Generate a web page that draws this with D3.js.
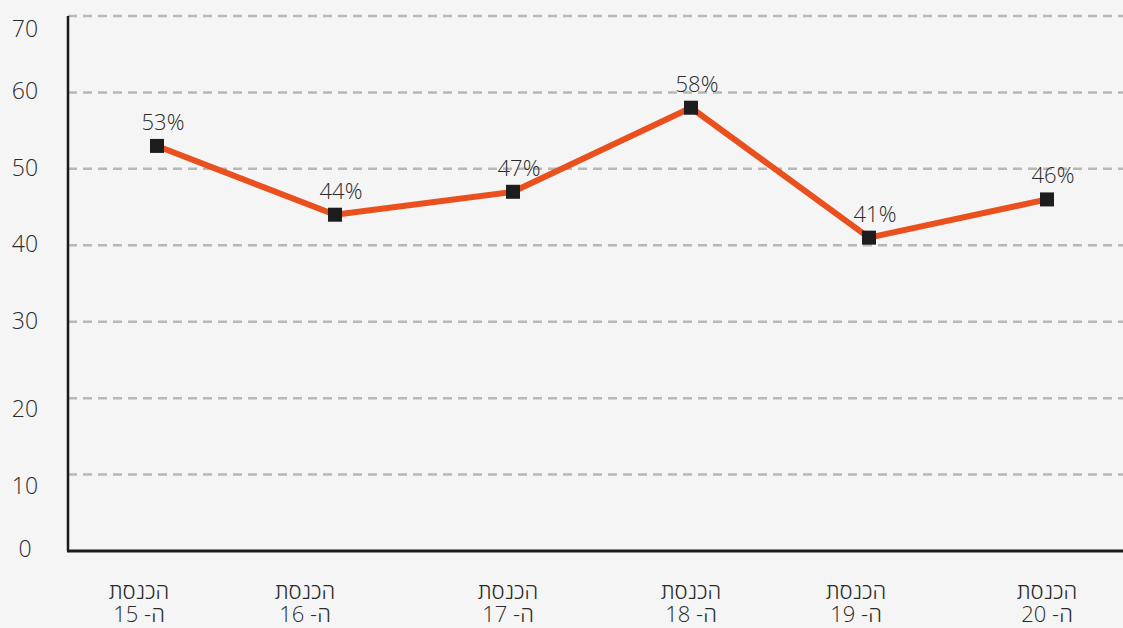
<!DOCTYPE html>
<html>
<head>
<meta charset="utf-8">
<script src="https://cdn.jsdelivr.net/npm/d3@7"></script>
<style>
    body { margin: 0; background: #f5f5f5; }
    svg { display: block; font-family: "Open Sans", "DejaVu Sans", sans-serif; font-weight: 300; }
</style>
</head>
<body>
<div id="chart"></div>
<script>
// data
const knessets = ["15", "16", "17", "18", "19", "20"];
const values = [53, 44, 47, 58, 41, 46];
const yTicks = [0, 10, 20, 30, 40, 50, 60, 70];

// small layout nudges so labels sit where the original put them
const xLabelNudge = [-18, -30, -5, 0, -13, 0];
const yLabelNudge = [-2, 11, 11, -1, -1, -1, -1, 13];

const width = 1123;
const height = 628;
const margin = { top: 16, right: 0, bottom: 77, left: 68 };

const svg = d3.select("#chart")
    .append("svg")
    .attr("width", width)
    .attr("height", height);

svg.append("rect")
    .attr("width", width)
    .attr("height", height)
    .attr("fill", "#f5f5f5");

const x = d3.scalePoint()
    .domain(knessets)
    .range([margin.left, margin.left + 1068])
    .padding(0.5);

const y = d3.scaleLinear()
    .domain([0, 70])
    .range([height - margin.bottom, margin.top]);

// dashed gridlines
svg.append("g")
    .selectAll("line")
    .data(yTicks.filter(d => d > 0))
    .enter()
    .append("line")
    .attr("x1", margin.left)
    .attr("x2", width)
    .attr("y1", d => y(d))
    .attr("y2", d => y(d))
    .attr("stroke", "#b8b8b8")
    .attr("stroke-width", 2.5)
    .attr("stroke-dasharray", "9,6");

// y tick labels
svg.append("g")
    .selectAll("text")
    .data(yTicks)
    .enter()
    .append("text")
    .attr("x", 25)
    .attr("y", (d, i) => y(d) + yLabelNudge[i])
    .attr("dy", "0.35em")
    .attr("text-anchor", "middle")
    .style("font-size", "23px")
    .style("fill", "#2b2b2b")
    .text(d => d);

// axes lines
svg.append("line")
    .attr("x1", margin.left)
    .attr("x2", margin.left)
    .attr("y1", margin.top)
    .attr("y2", y(0))
    .attr("stroke", "#1a1a1a")
    .attr("stroke-width", 2.5);

svg.append("line")
    .attr("x1", margin.left - 1)
    .attr("x2", width)
    .attr("y1", y(0))
    .attr("y2", y(0))
    .attr("stroke", "#1a1a1a")
    .attr("stroke-width", 3);

// x labels (two lines each)
const xl = svg.append("g")
    .selectAll("g")
    .data(knessets)
    .enter()
    .append("g")
    .attr("transform", (d, i) => `translate(${x(d) + xLabelNudge[i]},0)`);

xl.append("text")
    .attr("y", 599)
    .attr("text-anchor", "middle")
    .attr("direction", "rtl")
    .style("font-size", "22px")
    .style("fill", "#2b2b2b")
    .text("הכנסת");

xl.append("text")
    .attr("y", 622)
    .attr("text-anchor", "middle")
    .attr("direction", "rtl")
    .style("font-size", "22px")
    .style("fill", "#2b2b2b")
    .text(d => "ה- " + d);

// the line
const line = d3.line()
    .x((d, i) => x(knessets[i]))
    .y(d => y(d));

svg.append("path")
    .datum(values)
    .attr("d", line)
    .attr("fill", "none")
    .attr("stroke", "#e9501e")
    .attr("stroke-width", 6)
    .attr("stroke-linejoin", "round");

// square markers
svg.append("g")
    .selectAll("rect")
    .data(values)
    .enter()
    .append("rect")
    .attr("x", (d, i) => x(knessets[i]) - 7)
    .attr("y", d => y(d) - 7)
    .attr("width", 14)
    .attr("height", 14)
    .attr("fill", "#1d1d1d");

// value labels
svg.append("g")
    .selectAll("text")
    .data(values)
    .enter()
    .append("text")
    .attr("x", (d, i) => x(knessets[i]) + 6)
    .attr("y", d => y(d) - 16)
    .attr("text-anchor", "middle")
    .style("font-size", "22px")
    .style("fill", "#2b2b2b")
    .text(d => d + "%");
</script>
</body>
</html>
